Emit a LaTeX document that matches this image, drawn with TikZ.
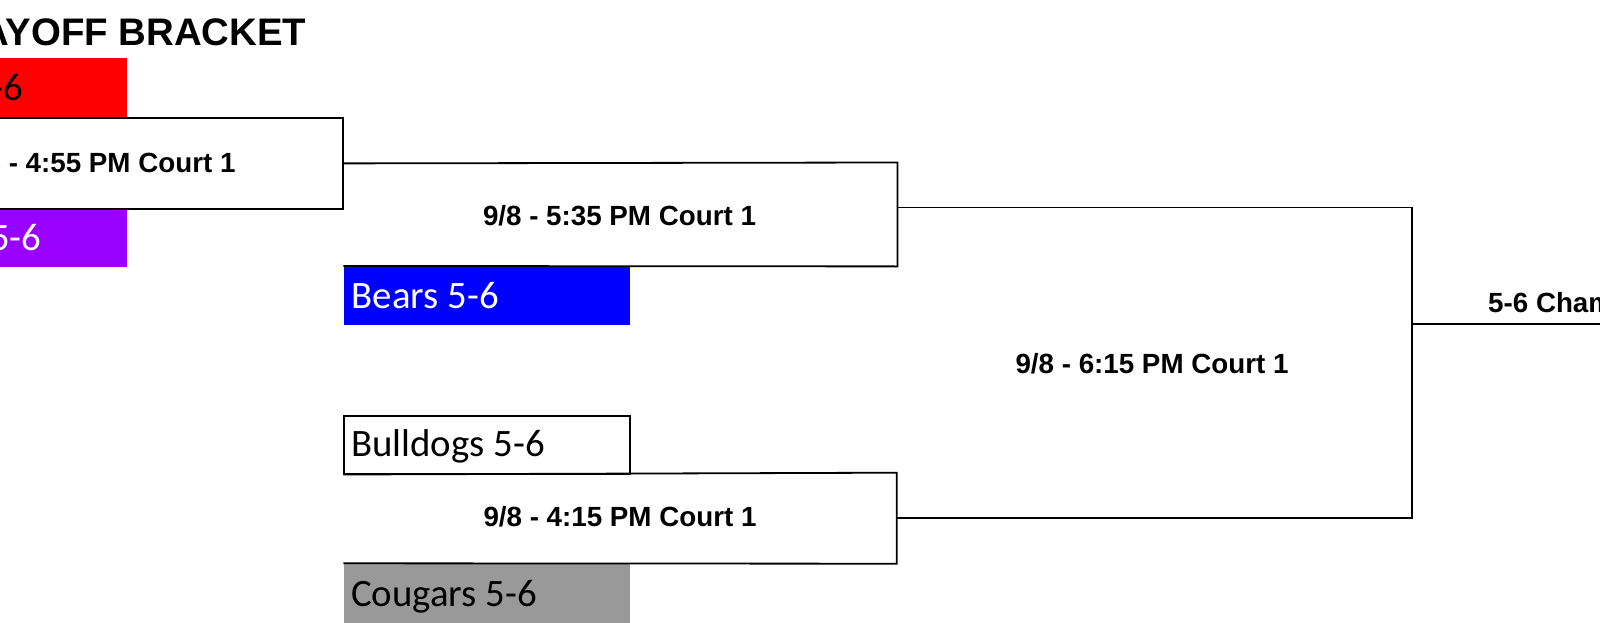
\documentclass[tikz,border=0pt]{standalone}
\usepackage{fontspec}
\setmainfont{Liberation Sans}
\newfontfamily\teamfont{Carlito}
\definecolor{tred}{RGB}{255,0,0}
\definecolor{tpurple}{RGB}{153,0,255}
\definecolor{tblue}{RGB}{0,0,255}
\definecolor{tgray}{RGB}{153,153,153}
\begin{document}
\begin{tikzpicture}[x=1pt,y=-1pt,
  wire/.style={line width=1.8pt, draw=black},
  teambox/.style={inner sep=0pt, minimum width=286pt, minimum height=58.5pt, anchor=north west},
  gamebox/.style={inner sep=0pt, anchor=north west},
  gametext/.style={inner sep=0pt, anchor=base, font=\fontsize{27.75}{33}\selectfont\bfseries},
  teamtext/.style={inner sep=0pt, anchor=base west, font=\teamfont\fontsize{38.8}{46}\selectfont},
  titletext/.style={inner sep=0pt, anchor=base east, font=\fontsize{38.4}{46}\selectfont\bfseries}]
\useasboundingbox (0,0) rectangle (1600,623);
\clip (0,0) rectangle (1600,623);
\fill[white] (0,0) rectangle (1600,623);

% title
\node[titletext] (title) at (306.5,45.7) {PLAYOFF BRACKET};

% team boxes (fills)
\node[teambox, anchor=north east, minimum width=180pt, fill=tred] (red) at (127,58) {};
\node[teambox, anchor=north east, minimum width=180pt, minimum height=59pt, fill=tpurple] (purple) at (127,207.7) {};
\node[teambox, fill=tblue] (bears) at (343.3,266) {};
\node[teambox, minimum height=57.7pt, fill=white, wire] (bulldogs) at (343.3,415) {};
\node[teambox, minimum height=70pt, fill=tgray] (cougars) at (343.3,563.3) {};

% team texts
\node[teamtext, anchor=base east] (redt) at (23,100.8) {5-6};
\node[teamtext, anchor=base east, text=white] (purplet) at (41.5,250) {5-6};
\node[teamtext, text=white] (bearst) at (351.5,308.3) {Bears 5-6};
\node[teamtext] (bulldogst) at (351,456.7) {Bulldogs 5-6};
\node[teamtext] (cougarst) at (351,606) {Cougars 5-6};

% game boxes
\node[gamebox, anchor=north east, minimum width=400pt, minimum height=90.4pt, wire] (gA) at (344,117.3) {};
\node[gamebox, minimum width=553pt, minimum height=103.5pt] (gB) at (344,162.5) {};
\node[gamebox, minimum width=553pt, minimum height=90.6pt] (gC) at (343.3,472.7) {};

\draw[wire] (gA.east) -- (gB.north east) -- (gB.south east) -- (bears.north west);
\draw[wire] (bulldogs.south west) -- (gC.north east) -- (gC.south east) -- (cougars.north west);

% game texts
\node[gametext] (tA) at (99,172.7) {9/8 - 4:55 PM Court 1};
\node[gametext] (tB) at (619.5,225) {9/8 - 5:35 PM Court 1};
\node[gametext] (tC) at (620,526.7) {9/8 - 4:15 PM Court 1};
\node[gametext] (tF) at (1152,373.3) {9/8 - 6:15 PM Court 1};

% final connectors
\coordinate (jB) at (897,207.5);
\coordinate (jC) at (897,518);
\coordinate (fTop) at (1411.7,207.5);
\coordinate (fBot) at (1411.7,518);
\coordinate (fMid) at (1411.7,324.3);
\coordinate (champEnd) at (1620,324.3);
\draw[wire] (jB) -- (fTop) -- (fBot) -- (jC);
\draw[wire] (fMid) -- (champEnd);
\node[gametext, anchor=base west] (champ) at (1488,312.3) {5-6 Champion};
\end{tikzpicture}
\end{document}
